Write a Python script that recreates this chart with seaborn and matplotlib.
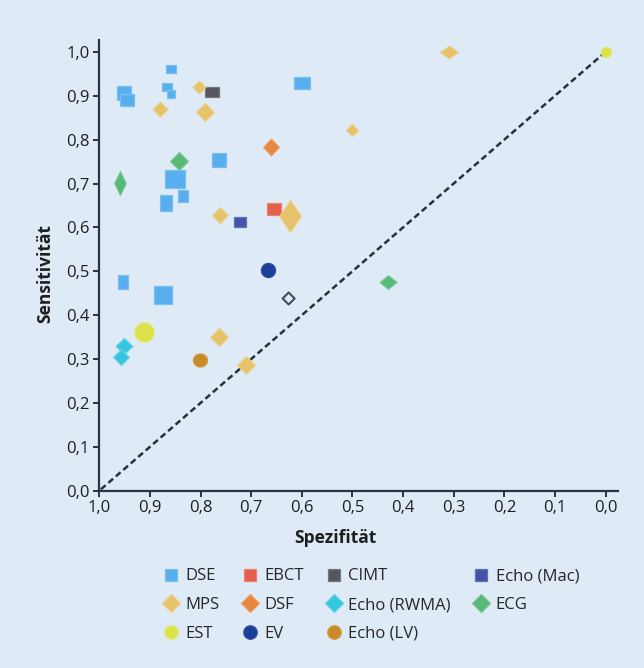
import numpy as np
import pandas as pd
import matplotlib
matplotlib.use("Agg")
import matplotlib.pyplot as plt
from matplotlib.lines import Line2D
from matplotlib.path import Path
from matplotlib.markers import MarkerStyle
import seaborn as sns

# ---------------- data (specificity, sensitivity, marker extents in px) ----------------
categories = ["DSE", "EBCT", "CIMT", "Echo (Mac)", "MPS", "DSF",
              "Echo (RWMA)", "ECG", "EST", "EV", "Echo (LV)"]

dse_spec = [0.952, 0.946, 0.859, 0.867, 0.858, 0.600, 0.764, 0.850, 0.868, 0.834, 0.954, 0.874]
dse_sens = [0.906, 0.891, 0.960, 0.921, 0.904, 0.929, 0.754, 0.711, 0.655, 0.671, 0.476, 0.445]
dse_w = [14, 13, 9, 10, 8, 15, 14, 19, 11, 9, 10, 17]
dse_h = [13, 11, 8, 8, 8, 11, 13, 17, 15, 11, 14, 17]

ebct_spec = [0.654]
ebct_sens = [0.642]
ebct_w = [13]
ebct_h = [11]

cimt_spec = [0.777]
cimt_sens = [0.908]
cimt_w = [13]
cimt_h = [10]

mac_spec = [0.722]
mac_sens = [0.612]
mac_w = [11]
mac_h = [10]

mps_spec = [0.803, 0.881, 0.791, 0.501, 0.761, 0.623, 0.309, 0.764, 0.710]
mps_sens = [0.921, 0.870, 0.862, 0.821, 0.628, 0.625, 1.000, 0.350, 0.287]
mps_w = [12, 14, 17, 11, 15, 21, 17, 17, 17]
mps_h = [12, 14, 17, 11, 15, 31, 12, 17, 17]

dsf_spec = [0.660]
dsf_sens = [0.783]
dsf_w = [15]
dsf_h = [16]

rwma_spec = [0.951, 0.957]
rwma_sens = [0.330, 0.304]
rwma_w = [16, 15]
rwma_h = [15, 15]

ecg_spec = [0.842, 0.960, 0.430]
ecg_sens = [0.752, 0.701, 0.475]
ecg_w = [17, 11, 16]
ecg_h = [17, 23, 13]

est_spec = [0.912, 0.000]
est_sens = [0.362, 1.000]
est_w = [19, 10]
est_h = [19, 10]

ev_spec = [0.667]
ev_sens = [0.503]
ev_w = [14]
ev_h = [14]

lv_spec = [0.801]
lv_sens = [0.297]
lv_w = [14]
lv_h = [13]

# unlabelled open diamond
open_spec = [0.626]
open_sens = [0.438]
open_w = [13]
open_h = [13]

x_ticks = [1.0, 0.9, 0.8, 0.7, 0.6, 0.5, 0.4, 0.3, 0.2, 0.1, 0.0]
y_ticks = [0.0, 0.1, 0.2, 0.3, 0.4, 0.5, 0.6, 0.7, 0.8, 0.9, 1.0]

# ---------------- styles ----------------
shape = {"DSE": "s", "EBCT": "s", "CIMT": "s", "Echo (Mac)": "s",
         "MPS": "D", "DSF": "D", "Echo (RWMA)": "D", "ECG": "D",
         "EST": "o", "EV": "o", "Echo (LV)": "o"}
face = {"DSE": "#58aeee", "EBCT": "#e4604c", "CIMT": "#54585e", "Echo (Mac)": "#4553a8",
        "MPS": "#e6c36b", "DSF": "#e6863f", "Echo (RWMA)": "#37c6e0", "ECG": "#58b878",
        "EST": "#dbe24c", "EV": "#1b3e99", "Echo (LV)": "#c98b28"}
edge = {"DSE": "#78bff3", "EBCT": "#ee8070", "CIMT": "#74777c", "Echo (Mac)": "#6470bc",
        "MPS": "#ecce84", "DSF": "#ee9e63", "Echo (RWMA)": "#60d3e8", "ECG": "#76c68f",
        "EST": "#e3e86e", "EV": "#33539f", "Echo (LV)": "#d49c45"}

groups = {
    "DSE": (dse_spec, dse_sens, dse_w, dse_h),
    "EBCT": (ebct_spec, ebct_sens, ebct_w, ebct_h),
    "CIMT": (cimt_spec, cimt_sens, cimt_w, cimt_h),
    "Echo (Mac)": (mac_spec, mac_sens, mac_w, mac_h),
    "MPS": (mps_spec, mps_sens, mps_w, mps_h),
    "DSF": (dsf_spec, dsf_sens, dsf_w, dsf_h),
    "Echo (RWMA)": (rwma_spec, rwma_sens, rwma_w, rwma_h),
    "ECG": (ecg_spec, ecg_sens, ecg_w, ecg_h),
    "EST": (est_spec, est_sens, est_w, est_h),
    "EV": (ev_spec, ev_sens, ev_w, ev_h),
    "Echo (LV)": (lv_spec, lv_sens, lv_w, lv_h),
}

rows = []
for cat, (sp, se, ww, hh) in groups.items():
    for a, b, c, d in zip(sp, se, ww, hh):
        rows.append(dict(category=cat, spec=a, sens=b, w=c, h=d))
df = pd.DataFrame(rows)

BG = "#deebf7"
DPI = 100
PX2PT = 72.0 / DPI

sns.set_theme(style="ticks")
plt.rcParams["font.family"] = ["Open Sans", "DejaVu Sans"]

fig = plt.figure(figsize=(6.44, 6.68), dpi=DPI, facecolor=BG)
ax = fig.add_axes([99.3 / 644, 1 - 490.7 / 668, (618 - 99.3) / 644, (490.7 - 40) / 668])
ax.set_facecolor(BG)


def marker_path(kind, w, h):
    if kind == "s":
        v = [(-w / 2, -h / 2), (w / 2, -h / 2), (w / 2, h / 2), (-w / 2, h / 2)]
    elif kind == "D":
        v = [(0, -h / 2), (w / 2, 0), (0, h / 2), (-w / 2, 0)]
    else:
        t = np.linspace(0, 2 * np.pi, 48, endpoint=False)
        v = list(zip(w / 2 * np.cos(t), h / 2 * np.sin(t)))
    v = v + [v[0]]
    return MarkerStyle(Path(v, closed=True))


# diagonal reference line
sns.lineplot(x=[1.0, 0.0], y=[0.0, 1.0], ax=ax, color="#27313d", lw=1.8,
             linestyle=(0, (2.5, 1.45)), zorder=2)

grow = {"s": 0.2, "D": 0.8, "o": 0.2}
for _, r in df.iterrows():
    kind = shape[r.category]
    size_px = max(r.w, r.h) + grow[kind]
    sns.scatterplot(x=[r.spec], y=[r.sens], ax=ax,
                    marker=marker_path(kind, r.w, r.h),
                    s=(size_px * PX2PT) ** 2,
                    color=face[r.category], edgecolor=edge[r.category],
                    linewidth=0.9, zorder=3, legend=False)

for a, b, c, d in zip(open_spec, open_sens, open_w, open_h):
    sns.scatterplot(x=[a], y=[b], ax=ax, marker=marker_path("D", c, d),
                    s=((max(c, d) - 1.0) * PX2PT) ** 2,
                    facecolor="none", edgecolor="#474c55", linewidth=1.5,
                    zorder=3, legend=False)

ax.set_xlim(1.0, -0.0245)
ax.set_ylim(0.0, 1.027)
ax.set_xticks(x_ticks)
ax.set_xticklabels([f"{v:.1f}".replace(".", ",") for v in x_ticks])
ax.set_yticks(y_ticks)
ax.set_yticklabels([f"{v:.1f}".replace(".", ",") for v in y_ticks])
ax.tick_params(axis="both", direction="out", length=4, width=1.4, color="#2b3440",
               labelsize=12, labelcolor="#1e1e1e", pad=3)
for side in ["top", "right"]:
    ax.spines[side].set_visible(False)
for side in ["left", "bottom"]:
    ax.spines[side].set_color("#2b3440")
    ax.spines[side].set_linewidth(1.6)
ax.grid(False)

ax.set_xlabel("Spezifität", fontsize=12.5, fontweight="bold", color="#1e1e1e")
ax.set_ylabel("Sensitivität", fontsize=12.5, fontweight="bold", color="#1e1e1e")
ax.xaxis.set_label_coords(0.455, -0.085)
ax.yaxis.set_label_coords(-0.086, 0.481)

# legend, filled row-wise in the reference -> reorder for column-wise filling
order = ["DSE", "MPS", "EST", "EBCT", "DSF", "EV", "CIMT", "Echo (RWMA)", "Echo (LV)",
         "Echo (Mac)", "ECG"]
leg_size = {"s": 12.0, "D": 12.3, "o": 13.5}
handles = [Line2D([], [], linestyle="none", marker=shape[c],
                  markersize=leg_size[shape[c]] * PX2PT,
                  markerfacecolor=face[c], markeredgecolor=edge[c], markeredgewidth=0.9)
           for c in order]
fig.legend(handles, order, loc="upper left", bbox_to_anchor=(163 / 644, 1 - 568.5 / 668),
           ncol=4, frameon=False, fontsize=12, handlelength=1.0, handletextpad=0.35,
           columnspacing=1.33, labelspacing=0.75, borderpad=0, borderaxespad=0)

fig.savefig("out.png", dpi=DPI, facecolor=BG)
